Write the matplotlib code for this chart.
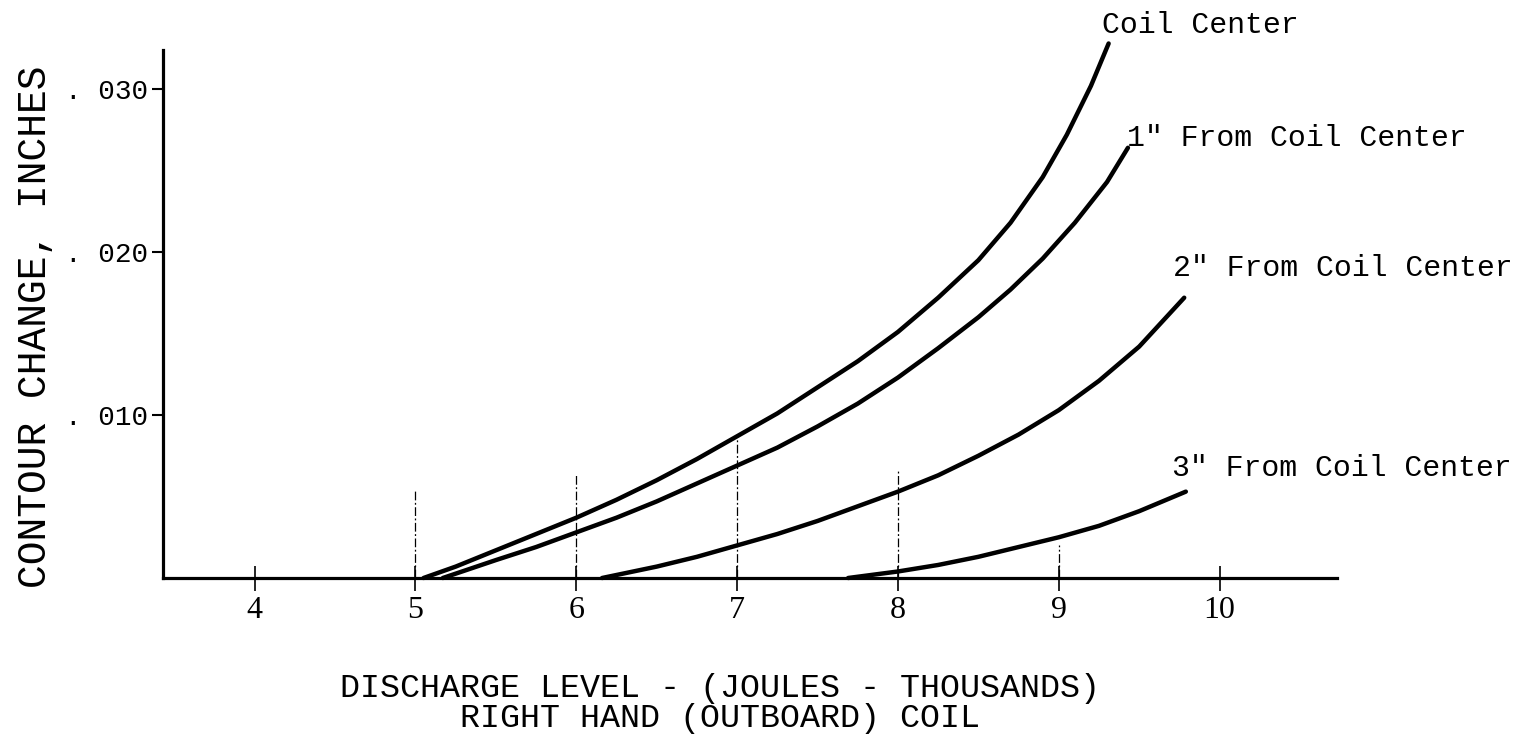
import matplotlib
matplotlib.use("Agg")
import matplotlib.pyplot as plt

# Contour change (inches) vs discharge level (thousands of joules)
center_x = [5.05, 5.25, 5.5, 5.75, 6.0, 6.25, 6.5, 6.75, 7.0, 7.25, 7.5, 7.75,
            8.0, 8.25, 8.5, 8.7, 8.9, 9.05, 9.2, 9.31]
center_y = [0.0, 0.0007, 0.0017, 0.0027, 0.0037, 0.0048, 0.0060, 0.0073, 0.0087,
            0.0101, 0.0117, 0.0133, 0.0151, 0.0172, 0.0195, 0.0218, 0.0246,
            0.0272, 0.0302, 0.0328]

one_in_x = [5.17, 5.5, 5.75, 6.0, 6.25, 6.5, 6.75, 7.0, 7.25, 7.5, 7.75, 8.0,
            8.25, 8.5, 8.7, 8.9, 9.1, 9.3, 9.43]
one_in_y = [0.0, 0.0011, 0.0019, 0.0028, 0.0037, 0.0047, 0.0058, 0.0069, 0.0080,
            0.0093, 0.0107, 0.0123, 0.0141, 0.0160, 0.0177, 0.0196, 0.0218,
            0.0243, 0.0264]

two_in_x = [6.16, 6.5, 6.75, 7.0, 7.25, 7.5, 7.75, 8.0, 8.25, 8.5, 8.75, 9.0,
            9.25, 9.5, 9.78]
two_in_y = [0.0, 0.0007, 0.0013, 0.0020, 0.0027, 0.0035, 0.0044, 0.0053, 0.0063,
            0.0075, 0.0088, 0.0103, 0.0121, 0.0142, 0.0172]

three_in_x = [7.69, 8.0, 8.25, 8.5, 8.75, 9.0, 9.25, 9.5, 9.79]
three_in_y = [0.0, 0.0004, 0.0008, 0.0013, 0.0019, 0.0025, 0.0032, 0.0041, 0.0053]

curve_labels = ["Coil Center", '1" From Coil Center', '2" From Coil Center',
                '3" From Coil Center']

x_ticks = [4, 5, 6, 7, 8, 9, 10]
y_ticks = [0.010, 0.020, 0.030]
y_tick_labels = [". 010", ". 020", ". 030"]

# construction guide lines rising from the axis
guide_x = [5, 6, 7, 8, 9]
guide_top = [0.0054, 0.0063, 0.0087, 0.0067, 0.0020]

TYPE = "Liberation Mono"
DIGITS = "Liberation Serif"

fig = plt.figure(figsize=(15.39, 7.40), dpi=100)
ax = fig.add_axes([163 / 1539, 1 - 578 / 740, (1337 - 163) / 1539, (578 - 50) / 740])
ax.set_xlim(3.43, 10.73)
ax.set_ylim(0, 0.0324)

for xs, ys in [(center_x, center_y), (one_in_x, one_in_y),
               (two_in_x, two_in_y), (three_in_x, three_in_y)]:
    ax.plot(xs, ys, color="black", lw=3.2, solid_capstyle="round",
            solid_joinstyle="round", clip_on=False)

ax.vlines(guide_x, 0, guide_top, colors="black", lw=0.9,
          linestyles=[(0, (7, 2, 1.5, 2))])

for s in ["top", "right"]:
    ax.spines[s].set_visible(False)
for s in ["left", "bottom"]:
    ax.spines[s].set_linewidth(2.3)

ax.set_xticks(x_ticks)
ax.set_xticklabels([str(v) for v in x_ticks], fontsize=23, family=DIGITS)
ax.tick_params(axis="x", direction="inout", length=18, width=1.2, pad=4)
ax.set_yticks(y_ticks)
ax.set_yticklabels(y_tick_labels, fontsize=20, family=TYPE)
ax.tick_params(axis="y", direction="out", length=8, width=1.5, pad=3)

fig.text(35 / 1539, 1 - 327 / 740, "CONTOUR CHANGE, INCHES", rotation=90,
         ha="center", va="center", fontsize=28.5, family=TYPE)

fig.text(720 / 1539, 1 - 689 / 740, "DISCHARGE LEVEL - (JOULES - THOUSANDS)",
         ha="center", va="center", fontsize=24, family=TYPE)
fig.text(720 / 1539, 1 - 719 / 740, "RIGHT HAND (OUTBOARD) COIL",
         ha="center", va="center", fontsize=24, family=TYPE)

label_pos = [(1102, 25), (1127, 138), (1173, 268), (1172, 468)]
for text, (px, py) in zip(curve_labels, label_pos):
    fig.text(px / 1539, 1 - py / 740, text, ha="left", va="center",
             fontsize=21.5, family=TYPE)

fig.savefig("out.png", dpi=100, facecolor="white")
